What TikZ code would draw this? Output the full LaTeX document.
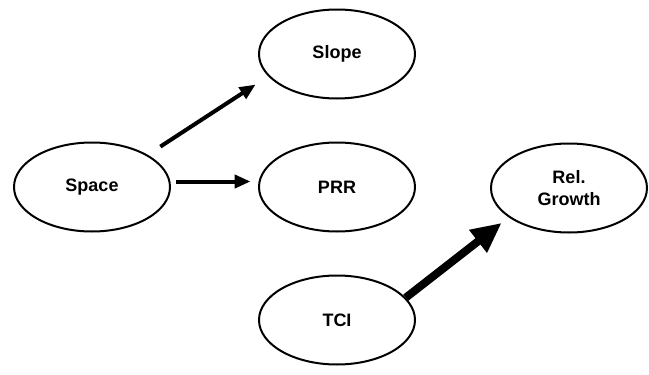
\documentclass[tikz,border=0pt]{standalone}
\usepackage{fontspec}
\setmainfont{Liberation Sans}
\usetikzlibrary{shapes.geometric,arrows.meta}
\tikzset{
	var/.style={draw,ellipse,line width=2pt,minimum width=156pt,minimum height=89pt,
		inner sep=0pt,align=center,font=\bfseries\fontsize{18}{22}\selectfont},
	effect/.style={line width=4pt,-{Triangle[length=16pt,width=13pt]}},
	bigeffect/.style={line width=8pt,-{Triangle[length=30pt,width=27pt]}}
}
\begin{document}
\begin{tikzpicture}[x=1pt,y=-1pt]
	\useasboundingbox (0,0) rectangle (649,375);
	\node[var] (space) at (92,187) {Space};
	\node[var] (slope) at (337,54) {Slope};
	\node[var] (prr) at (337,187) {PRR};
	\node[var] (tci) at (337,320) {TCI};
	\node[var] (rel) at (569,188) {Rel.\\Growth};
	\draw[effect,shorten <=15pt,shorten >=15pt] (space.30) -- (slope.198);
	\draw[effect,shorten <=6pt,shorten >=8pt] (space.4) -- (prr.176);
	\draw[bigeffect,shorten >=9pt] (tci.18) -- (rel.206);
\end{tikzpicture}
\end{document}
